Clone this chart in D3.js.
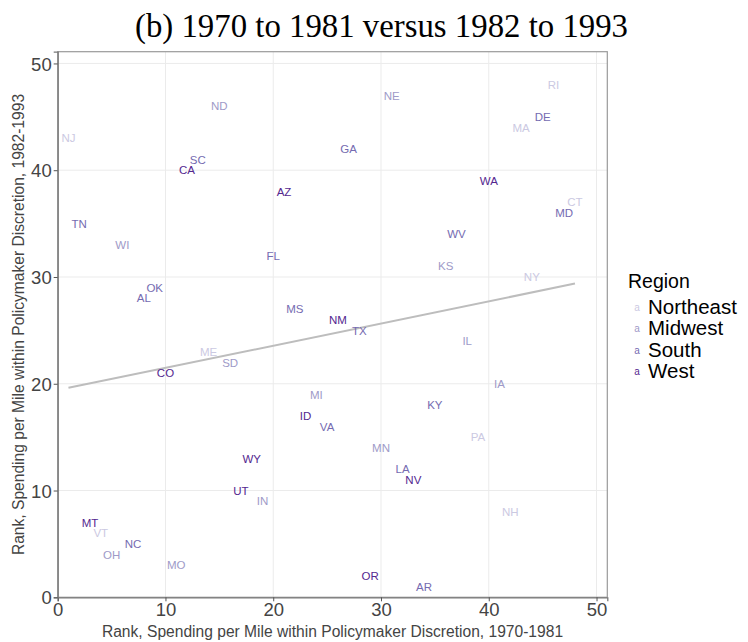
<!DOCTYPE html>
<html>
<head>
<meta charset="utf-8">
<script src="https://cdn.jsdelivr.net/npm/d3@7"></script>
<style>
  body { margin: 0; background: #fff; }
  svg { display: block; }
</style>
</head>
<body>
<svg id="chart" width="748" height="642"></svg>
<script>
// State abbreviations and their ranks in both periods
const states = ['NJ','TN','MT','VT','OH','WI','NC','AL','OK','CO','MO','CA','SC','ME','ND','SD',
  'UT','WY','IN','FL','AZ','MS','ID','MI','VA','NM','GA','TX','OR','MN','NE','LA',
  'NV','AR','KY','KS','WV','IL','PA','WA','IA','NH','MA','NY','DE','RI','MD','CT'];
const rank7081 = [1,2,3,4,5,6,7,8,9,10,11,12,13,14,15,16,
  17,18,19,20,21,22,23,24,25,26,27,28,29,30,31,32,
  33,34,35,36,37,38,39,40,41,42,43,44,45,46,47,48];
const rank8293 = [43,35,7,6,4,33,5,28,29,21,3,40,41,23,46,22,
  10,13,9,32,38,27,17,19,16,26,42,25,2,14,47,12,
  11,1,18,31,34,24,15,39,20,8,44,30,45,48,36,37];
const stateRegion = ['Northeast','South','West','Northeast','Midwest','Midwest','South','South','South','West','Midwest','West','South','Northeast','Midwest','Midwest',
  'West','West','Midwest','South','West','South','West','Midwest','South','West','South','South','West','Midwest','Midwest','South',
  'West','South','South','Midwest','South','Midwest','Northeast','West','Midwest','Northeast','Northeast','Northeast','South','Northeast','South','Northeast'];

const regions = ['Northeast', 'Midwest', 'South', 'West'];
const regionColors = ['#cbc9e2', '#9e9ac8', '#756bb1', '#54278f'];
const ticks = [0, 10, 20, 30, 40, 50];

const data = states.map((s, i) => ({
  state: s, x: rank7081[i], y: rank8293[i], region: stateRegion[i]
}));

const svg = d3.select('#chart');
const pLeft = 57.7, pRight = 607.3, pTop = 51.7, pBottom = 597.3;

const xScale = d3.scaleLinear().domain([0, 51]).range([pLeft, pRight]);
const yScale = d3.scaleLinear().domain([0, 51.1]).range([pBottom, pTop]);
const color = d3.scaleOrdinal().domain(regions).range(regionColors);

// Grid lines
svg.append('g')
  .selectAll('line')
  .data(ticks)
  .join('line')
  .attr('x1', d => xScale(d)).attr('x2', d => xScale(d))
  .attr('y1', pTop).attr('y2', pBottom)
  .attr('stroke', '#ebebeb').attr('stroke-width', 1);

svg.append('g')
  .selectAll('line')
  .data(ticks)
  .join('line')
  .attr('x1', pLeft).attr('x2', pRight)
  .attr('y1', d => yScale(d)).attr('y2', d => yScale(d))
  .attr('stroke', '#ebebeb').attr('stroke-width', 1);

// Panel border
svg.append('rect')
  .attr('x', pLeft).attr('y', pTop)
  .attr('width', pRight - pLeft).attr('height', pBottom - pTop)
  .attr('fill', 'none').attr('stroke', '#9a9a9a').attr('stroke-width', 1.2);

// Axes
const xAxis = svg.append('g')
  .attr('transform', `translate(0,${pBottom})`)
  .call(d3.axisBottom(xScale).tickValues(ticks).tickSize(4).tickPadding(2));
const yAxis = svg.append('g')
  .attr('transform', `translate(${pLeft},0)`)
  .call(d3.axisLeft(yScale).tickValues(ticks).tickSize(4).tickPadding(2));

[xAxis, yAxis].forEach(a => {
  a.select('.domain').attr('stroke', '#7a7a7a').attr('stroke-width', 1.3);
  a.selectAll('.tick line').attr('stroke', '#555');
  a.selectAll('.tick text')
    .attr('fill', '#444')
    .style('font-family', '"Liberation Sans", Arial, sans-serif')
    .style('font-size', '18.5px');
});
yAxis.selectAll('.tick text').attr('dy', '0.36em');

// Regression line (least squares on the data)
const mx = d3.mean(data, d => d.x), my = d3.mean(data, d => d.y);
const slope = d3.sum(data, d => (d.x - mx) * (d.y - my)) / d3.sum(data, d => (d.x - mx) ** 2);
const intercept = my - slope * mx;
const xr = d3.extent(data, d => d.x);
svg.append('line')
  .attr('x1', xScale(xr[0])).attr('y1', yScale(intercept + slope * xr[0]))
  .attr('x2', xScale(xr[1])).attr('y2', yScale(intercept + slope * xr[1]))
  .attr('stroke', '#bdbdbd').attr('stroke-width', 2);

// State labels
svg.append('g')
  .selectAll('text')
  .data(data)
  .join('text')
  .attr('x', d => xScale(d.x))
  .attr('y', d => yScale(d.y))
  .attr('dy', '0.36em')
  .attr('text-anchor', 'middle')
  .attr('fill', d => color(d.region))
  .style('font-family', '"Liberation Sans", Arial, sans-serif')
  .style('font-size', '11.5px')
  .text(d => d.state);

// Title
svg.append('text')
  .attr('x', 135).attr('y', 37)
  .attr('textLength', 493).attr('lengthAdjust', 'spacingAndGlyphs')
  .style('font-family', '"Liberation Serif", "Times New Roman", serif')
  .style('font-size', '34px')
  .attr('fill', '#000')
  .text('(b) 1970 to 1981 versus 1982 to 1993');

// Axis titles
svg.append('text')
  .attr('x', (pLeft + pRight) / 2).attr('y', 637)
  .attr('text-anchor', 'middle')
  .attr('fill', '#444')
  .style('font-family', '"Liberation Sans", Arial, sans-serif')
  .style('font-size', '15.6px')
  .text('Rank, Spending per Mile within Policymaker Discretion, 1970-1981');

svg.append('text')
  .attr('transform', `translate(24,${(pTop + pBottom) / 2}) rotate(-90)`)
  .attr('text-anchor', 'middle')
  .attr('fill', '#444')
  .style('font-family', '"Liberation Sans", Arial, sans-serif')
  .style('font-size', '15.6px')
  .text('Rank, Spending per Mile within Policymaker Discretion, 1982-1993');

// Legend
const legend = svg.append('g');
legend.append('text')
  .attr('x', 628).attr('y', 288)
  .attr('fill', '#000')
  .style('font-family', '"Liberation Sans", Arial, sans-serif')
  .style('font-size', '19.5px')
  .text('Region');

const items = legend.selectAll('g')
  .data(regions)
  .join('g')
  .attr('transform', (d, i) => `translate(0,${314 + i * 21.3})`);
items.append('text')
  .attr('x', 637).attr('y', -3)
  .attr('text-anchor', 'middle')
  .attr('fill', d => color(d))
  .style('font-family', '"Liberation Sans", Arial, sans-serif')
  .style('font-size', '10px')
  .text('a');
items.append('text')
  .attr('x', 648).attr('y', 0)
  .attr('fill', '#000')
  .style('font-family', '"Liberation Sans", Arial, sans-serif')
  .style('font-size', '20.5px')
  .text(d => d);
</script>
</body>
</html>
